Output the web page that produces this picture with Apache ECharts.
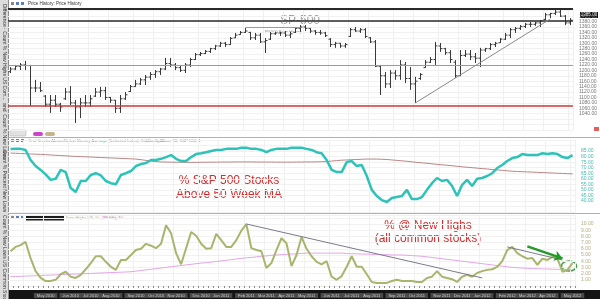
<!DOCTYPE html>
<html>
<head>
<meta charset="utf-8">
<script src="https://cdn.jsdelivr.net/npm/echarts@6/dist/echarts.min.js"></script>
<style>
html,body{margin:0;padding:0;background:#fff;}
#chart{width:600px;height:299px;}
</style>
</head>
<body>
<div id="chart"></div>
<script>
// weekly bars, Mar 2010 - May 2012
var weeks = [
 '2010-03-15','2010-03-22','2010-03-29','2010-04-05','2010-04-12','2010-04-19','2010-04-26','2010-05-03','2010-05-10','2010-05-17',
 '2010-05-24','2010-05-31','2010-06-07','2010-06-14','2010-06-21','2010-06-28','2010-07-05','2010-07-12','2010-07-19','2010-07-26',
 '2010-08-02','2010-08-09','2010-08-16','2010-08-23','2010-08-30','2010-09-06','2010-09-13','2010-09-20','2010-09-27','2010-10-04',
 '2010-10-11','2010-10-18','2010-10-25','2010-11-01','2010-11-08','2010-11-15','2010-11-22','2010-11-29','2010-12-06','2010-12-13',
 '2010-12-20','2010-12-27','2011-01-03','2011-01-10','2011-01-17','2011-01-24','2011-01-31','2011-02-07','2011-02-14','2011-02-21',
 '2011-02-28','2011-03-07','2011-03-14','2011-03-21','2011-03-28','2011-04-04','2011-04-11','2011-04-18','2011-04-25','2011-05-02',
 '2011-05-09','2011-05-16','2011-05-23','2011-05-30','2011-06-06','2011-06-13','2011-06-20','2011-06-27','2011-07-04','2011-07-11',
 '2011-07-18','2011-07-25','2011-08-01','2011-08-08','2011-08-15','2011-08-22','2011-08-29','2011-09-05','2011-09-12','2011-09-19',
 '2011-09-26','2011-10-03','2011-10-10','2011-10-17','2011-10-24','2011-10-31','2011-11-07','2011-11-14','2011-11-21','2011-11-28',
 '2011-12-05','2011-12-12','2011-12-19','2011-12-26','2012-01-02','2012-01-09','2012-01-16','2012-01-23','2012-01-30','2012-02-06',
 '2012-02-13','2012-02-20','2012-02-27','2012-03-05','2012-03-12','2012-03-19','2012-03-26','2012-04-02','2012-04-09','2012-04-16',
 '2012-04-23','2012-04-30','2012-05-07'
];
var monthNames = ['Jan','Feb','Mar','Apr','May','Jun','Jul','Aug','Sep','Oct','Nov','Dec'];

var spOpen = [
 1195,1205,1215,1220,1218,1135,1135,1105,1075,1090,
 1075,1095,1120,1080,1065,1080,1080,1105,1120,1125,
 1100,1090,1060,1095,1122,1140,1150,1165,1175,1185,
 1195,1205,1225,1220,1210,1200,1220,1240,1258,1262,
 1270,1280,1290,1300,1295,1320,1332,1340,1340,1320,
 1330,1305,1315,1335,1338,1338,1330,1340,1355,1360,
 1355,1345,1340,1338,1315,1295,1300,1290,1325,1350,
 1345,1350,1320,1305,1215,1180,1150,1190,1180,1220,
 1170,1150,1170,1210,1230,1240,1290,1280,1265,1230,
 1180,1255,1260,1250,1245,1275,1280,1295,1302,1315,
 1330,1350,1355,1362,1370,1370,1375,1388,1405,1410,
 1415,1400,1375
];
var spClose = [
 1205,1215,1220,1218,1135,1135,1125,1075,1090,1075,
 1065,1120,1080,1065,1080,1080,1095,1120,1125,1100,
 1090,1060,1095,1110,1140,1150,1165,1175,1185,1195,
 1205,1225,1220,1210,1200,1220,1240,1258,1262,1270,
 1280,1290,1300,1295,1318,1330,1340,1345,1320,1330,
 1305,1310,1335,1338,1338,1330,1335,1355,1360,1355,
 1345,1340,1338,1328,1295,1300,1290,1295,1350,1345,
 1350,1325,1305,1215,1180,1150,1190,1180,1220,1170,
 1150,1160,1185,1230,1240,1290,1280,1265,1240,1180,
 1255,1260,1250,1245,1275,1280,1295,1300,1315,1330,
 1350,1355,1362,1370,1370,1375,1382,1405,1410,1415,
 1400,1375,1385
];
var spLow = [
 1190,1201,1201,1201,1069,1120,1120,1065,1043,1065,
 1047,1091,1072,1006,1024,1065,1065,1102,1102,1091,
 1080,1043,1043,1091,1120,1139,1146,1146,1165,1172,
 1183,1201,1212,1201,1194,1190,1212,1238,1253,1260,
 1264,1275,1286,1286,1294,1319,1331,1338,1312,1312,
 1301,1264,1312,1331,1327,1323,1319,1338,1342,1345,
 1338,1331,1331,1323,1286,1283,1283,1283,1323,1342,
 1338,1319,1301,1212,1109,1135,1135,1165,1165,1153,
 1128,1080,1165,1209,1227,1220,1268,1257,1227,1172,
 1179,1249,1238,1227,1212,1268,1275,1286,1301,1312,
 1319,1338,1349,1356,1360,1364,1360,1386,1393,1404,
 1397,1367,1367
];
var spHigh = [
 1212,1220,1227,1235,1220,1165,1157,1109,1109,1109,
 1080,1135,1142,1091,1098,1109,1109,1135,1139,1139,
 1102,1091,1109,1120,1146,1165,1172,1183,1194,1201,
 1209,1246,1246,1227,1220,1227,1246,1264,1268,1275,
 1283,1294,1305,1305,1323,1338,1345,1356,1342,1338,
 1338,1319,1342,1342,1342,1345,1342,1360,1367,1367,
 1356,1349,1349,1342,1319,1305,1301,1301,1356,1360,
 1356,1356,1323,1312,1220,1194,1201,1201,1238,1231,
 1212,1176,1190,1238,1249,1305,1301,1283,1275,1238,
 1275,1275,1275,1264,1283,1283,1301,1305,1319,1338,
 1356,1360,1367,1375,1379,1379,1386,1412,1412,1423,
 1423,1404,1393
];
// % of S&P 500 stocks above 50 week MA
var pctAbove = [
 86.9,87,87,86,77,71.5,68,64,59,60,
 68,66,51.6,48,58,58,63.4,65,63,58,
 56,55,63.4,65,67,71.5,73.3,74.2,77,77,
 78,79.6,81.4,78,76,76,79.6,82.3,83,84,
 85,86,86,87,87,87,88,88,87,87,
 86,84,86,87,87,87,88,88,88,87,
 86,84,83,77,68,66,66,75,76,71.5,
 72.4,62.5,50,44.4,40.8,39,42.6,43.5,44.4,50,
 41.7,41.7,43.5,50,56,60.7,58,59,53.5,44.4,
 54.4,59,53.5,60,60.7,62.5,65,69.7,72.4,76,
 78.7,79.6,82.3,81.4,81.4,81.4,83,82.3,83,82.3,
 79.6,78.7,81.4
];
var pctAboveMa = [
 83.2,83,82.8,82.6,82.4,82.2,82,81.8,81.5,81.2,
 81,80.7,80.4,80.2,80,79.8,79.6,79.4,79.2,79,
 78.8,78.6,78.4,78.2,78,77.8,77.2,76.6,76,75.5,
 75.2,75.1,75,74.9,74.9,74.8,74.8,74.8,74.9,74.9,
 75,75,75.1,75.1,75.1,75.2,75.2,75.2,75.2,75.1,
 75.1,75.1,75.1,75,75,75,75,75.1,75.1,75.2,
 75.2,75.3,75.4,75.5,76,76.4,76.8,77,77.2,77.4,
 77.6,77.8,77.8,77.8,77.6,77.4,77,76.6,76.2,75.8,
 75.3,74.8,74.4,74,73.5,73,72.6,72.2,71.8,71.3,
 70.8,70.4,70,69.6,69.2,68.8,68.4,68,67.6,67.2,
 66.8,66.6,66.4,66.2,66,65.8,65.6,65.4,65.2,65,
 64.8,64.6,64.4
];
// % of common stocks at new highs
var newHighs = [
 5.6,6.3,6.6,7.1,4.5,2.4,1.3,0.8,0.8,1,
 1.9,2.3,1.5,1.3,1.8,2.7,3.7,4.8,4.8,3.9,
 3.1,2.6,4.2,4.2,5,5.8,6,6.8,6.5,6.1,
 6.8,9.8,8.5,5.3,3.5,6.1,8.7,8.1,6.8,6,
 6.1,8.4,7.4,6.3,6.3,7.4,8.9,10,6.1,5.8,
 5.6,2.9,3.7,5.8,7.7,6.9,3.2,5,7.9,6,
 4.8,3.9,3.5,4,1.5,1,1.6,3.1,4.8,3.1,
 3.1,1.9,0.65,0.5,0.5,0.5,0.8,1,0.8,0.8,
 0.8,0.65,0.65,1.3,1.5,2.4,1.5,1.3,1.1,0.65,
 1.5,1.8,1.5,2.1,2.4,2.6,2.7,3.1,4,5.8,
 6.3,5.3,4.8,4.4,4.5,3.4,4.4,4.2,4.7,4.4,
 2.3,2.6,3.7
];
var newHighsMa = [
 1.5,1.53,1.56,1.6,1.63,1.66,1.7,1.73,1.76,1.8,
 1.83,1.86,1.9,1.93,1.96,2,2.03,2.06,2.1,2.13,
 2.16,2.2,2.23,2.26,2.3,2.4,2.5,2.6,2.7,2.8,
 2.9,3,3.1,3.2,3.3,3.4,3.5,3.6,3.7,3.75,
 3.85,3.95,4.05,4.15,4.25,4.35,4.45,4.55,4.6,4.7,
 4.8,4.85,4.95,5,5.05,5.1,5.15,5.2,5.25,5.3,
 5.3,5.3,5.3,5.3,5.3,5.3,5.3,5.25,5.2,5.2,
 5.15,5.15,5.1,5.1,5.05,5.05,5,5,5,4.95,
 4.9,4.85,4.8,4.7,4.6,4.5,4.4,4.3,4.2,4.1,
 4,3.9,3.8,3.7,3.6,3.5,3.4,3.3,3.2,3.1,
 3,2.95,2.9,2.85,2.8,2.8,2.75,2.75,2.7,2.7,
 2.65,2.65,2.6
];
// price levels drawn across the top panel
var priceLevels = [1427, 1382, 1220, 1069];

var chart = echarts.init(document.getElementById('chart'));

function monthStart(idx, val) {
    return +val.slice(8, 10) <= 7;
}

function renderOhlc(params, api) {
    var i = api.value(0);
    var x = Math.round(api.coord([i, api.value(1)])[0]) + 0.5;
    var yo = api.coord([i, api.value(1)])[1];
    var yc = api.coord([i, api.value(2)])[1];
    var yl = api.coord([i, api.value(3)])[1];
    var yh = api.coord([i, api.value(4)])[1];
    var st = {stroke: '#3a3a3a', lineWidth: 1};
    return {
        type: 'group',
        children: [
            {type: 'line', shape: {x1: x, y1: yh, x2: x, y2: yl}, style: st},
            {type: 'line', shape: {x1: x - 2, y1: yo, x2: x, y2: yo}, style: st},
            {type: 'line', shape: {x1: x, y1: yc, x2: x + 2, y2: yc}, style: st}
        ]
    };
}

var ohlcData = weeks.map(function (w, i) {
    return [i, spOpen[i], spClose[i], spLow[i], spHigh[i]];
});

function xAxisFor(g) {
    var ax = {
        type: 'category', gridIndex: g, data: weeks, boundaryGap: true,
        axisLine: {show: false}, axisTick: {show: false}, axisLabel: {show: false},
        splitLine: {show: true, interval: monthStart, lineStyle: {color: '#f0f0f0', width: 1}}
    };
    if (g === 2) {
        ax.offset = 4;
        ax.axisTick = {show: true, interval: 0, length: 2, lineStyle: {color: '#8a8a8a'}};
        ax.axisLabel = {
            show: true, interval: monthStart, fontSize: 4, color: '#cfcfcf',
            backgroundColor: '#4a4a4a', padding: [1, 3, 0, 3], margin: 3,
            formatter: function (v) { return monthNames[+v.slice(5, 7) - 1] + ' ' + v.slice(0, 4); }
        };
    }
    return ax;
}

var lblBase = {fontSize: 5, margin: 6};
var noLine = {show: false};

var option = {
    animation: false,
    textStyle: {fontFamily: 'Liberation Sans, Arial, sans-serif'},
    grid: [
        {left: 8, right: 25, top: 8, height: 122},
        {left: 8, right: 25, top: 140, height: 72},
        {left: 8, right: 25, top: 215, height: 71}
    ],
    xAxis: [xAxisFor(0), xAxisFor(1), xAxisFor(2)],
    yAxis: [
        {
            type: 'value', gridIndex: 0, position: 'right', min: 980, max: 1430, interval: 20,
            axisLine: noLine, axisTick: noLine,
            splitLine: {lineStyle: {color: '#f1f1f1'}},
            axisLabel: Object.assign({color: '#777', formatter: function (v) {
                return (v >= 1040 && v <= 1400) ? v.toFixed(2) : '';
            }}, lblBase)
        },
        {
            type: 'value', gridIndex: 1, position: 'right', min: 30, max: 95, interval: 5,
            axisLine: noLine, axisTick: noLine,
            splitLine: {lineStyle: {color: '#f1f1f1'}},
            axisLabel: Object.assign({color: '#46b9b2', formatter: function (v) {
                return (v >= 40 && v <= 85) ? v.toFixed(2) : '';
            }}, lblBase)
        },
        {
            type: 'value', gridIndex: 2, position: 'right', min: 0, max: 11.45, interval: 1,
            axisLine: noLine, axisTick: noLine,
            splitLine: {lineStyle: {color: '#f1f1f1'}},
            axisLabel: Object.assign({color: '#b3ab80', formatter: function (v) {
                return (v >= 1 && v <= 10) ? v.toFixed(2) : '';
            }}, lblBase)
        }
    ],
    series: [
        {
            type: 'line', xAxisIndex: 0, yAxisIndex: 0, data: spClose,
            symbol: 'none', silent: true, lineStyle: {opacity: 0},
            markLine: {
                silent: true, symbol: ['none', 'none'], label: {show: false},
                data: [
                    {yAxis: priceLevels[0], lineStyle: {color: '#2a2a2a', width: 2, type: 'solid'}},
                    {yAxis: priceLevels[1], lineStyle: {color: '#2a2a2a', width: 1.5, type: 'solid'}},
                    {yAxis: priceLevels[2], lineStyle: {color: '#9a9a9a', width: 1.2, type: 'solid'}},
                    {yAxis: priceLevels[3], lineStyle: {color: '#c43a3a', width: 1.5, type: 'solid'}},
                    [{coord: [weeks[81], 1080], lineStyle: {color: '#8a8a8a', width: 1, type: 'solid'}},
                     {coord: [weeks[108], 1390]}],
                    [{coord: [weeks[47], 1360], lineStyle: {color: '#9a9a9a', width: 1, type: 'solid'}},
                     {coord: [weeks[58], 1360]}]
                ]
            }
        },
        {
            type: 'custom', xAxisIndex: 0, yAxisIndex: 0, data: ohlcData,
            encode: {x: 0, y: [1, 2, 3, 4]}, renderItem: renderOhlc, silent: true
        },
        {
            type: 'line', xAxisIndex: 1, yAxisIndex: 1, data: pctAboveMa,
            symbol: 'none', lineStyle: {color: '#b98585', width: 1}
        },
        {
            type: 'line', xAxisIndex: 1, yAxisIndex: 1, data: pctAbove,
            symbol: 'none', lineStyle: {color: '#2ec2b8', width: 2.5}
        },
        {
            type: 'line', xAxisIndex: 2, yAxisIndex: 2, data: newHighsMa,
            symbol: 'none', lineStyle: {color: '#e2a6e6', width: 1}
        },
        {
            type: 'line', xAxisIndex: 2, yAxisIndex: 2, data: newHighs,
            symbol: 'none', lineStyle: {color: '#a9b56c', width: 2},
            markLine: {
                silent: true, symbol: ['none', 'none'], label: {show: false},
                data: [
                    [{coord: [weeks[47], 10], lineStyle: {color: '#7a7a8a', width: 1, type: 'solid'}},
                     {coord: [weeks[94], 1.3]}],
                    [{coord: [weeks[99], 6.3], lineStyle: {color: '#7a7a8a', width: 1, type: 'solid'}},
                     {coord: [weeks[110], 4.2]}],
                    [{coord: [weeks[103], 6.4], symbol: 'none', lineStyle: {color: '#239a2a', width: 2.5, type: 'solid'}},
                     {coord: [weeks[110], 4.45], symbol: 'arrow', symbolSize: 8}]
                ]
            }
        }
    ],
    graphic: [
        // left strip with rotated pane captions
        {type: 'rect', shape: {x: 0, y: 0, width: 8, height: 299}, style: {fill: '#dcdcdc'}},
        {type: 'line', shape: {x1: 8.5, y1: 0, x2: 8.5, y2: 299}, style: {stroke: '#8a8a8a', lineWidth: 1}},
        {type: 'text', x: 4, y: 4, rotation: -Math.PI / 2,
         style: {text: 'Difference · Count % New Highs US Com...  and  Count % New Lows', fontSize: 5, fill: '#333', verticalAlign: 'middle'}},
        {type: 'text', x: 4, y: 150, rotation: -Math.PI / 2,
         style: {text: 'Count % Percent New Lows  Count % New Lows US Common Stocks, 1', fontSize: 5, fill: '#333', verticalAlign: 'middle'}},
        // pane separators
        {type: 'line', shape: {x1: 8, y1: 137.5, x2: 600, y2: 137.5}, style: {stroke: '#b0b0b0', lineWidth: 1}},
        {type: 'line', shape: {x1: 8, y1: 213.5, x2: 600, y2: 213.5}, style: {stroke: '#b0b0b0', lineWidth: 1}},
        // bottom date band
        {type: 'rect', z: -10, shape: {x: 8, y: 290, width: 592, height: 9}, style: {fill: '#141414'}},
        // pane 1 header
        {type: 'rect', shape: {x: 11, y: 2, width: 3, height: 3}, style: {fill: '#888'}},
        {type: 'rect', shape: {x: 16, y: 2, width: 3, height: 3}, style: {fill: '#5b7fc0'}},
        {type: 'rect', shape: {x: 21, y: 2, width: 3, height: 3}, style: {fill: '#5b7fc0'}},
        {type: 'text', x: 28, y: 4, style: {text: 'Price History: Price History', fontSize: 4.5, fill: '#333', verticalAlign: 'middle'}},
        {type: 'text', x: 300, y: 21, style: {text: 'SP-500', fontSize: 12, fill: '#a0a0a0', align: 'center', verticalAlign: 'middle'}},
        {type: 'text', x: 283, y: 32, style: {text: 'SP 500 Price History', fontSize: 4, fill: '#888', align: 'center', verticalAlign: 'middle'}},
        {type: 'rect', shape: {x: 580, y: 12, width: 18, height: 6}, style: {fill: '#111'}},
        {type: 'text', x: 589, y: 15, style: {text: '1385.00', fontSize: 4.5, fill: '#fff', align: 'center', verticalAlign: 'middle'}},
        {type: 'rect', shape: {x: 10, y: 130, width: 16, height: 6, r: 1}, style: {fill: '#e2e2e2', stroke: '#aaa', lineWidth: 0.5}},
        {type: 'rect', shape: {x: 33, y: 132, width: 10, height: 4, r: 2}, style: {fill: '#cc44cc'}},
        {type: 'rect', shape: {x: 45, y: 132, width: 10, height: 4, r: 2}, style: {fill: '#c8b48a'}},
        {type: 'rect', shape: {x: 594, y: 127, width: 5, height: 4}, style: {fill: '#e06060'}},
        // pane 2 header
        {type: 'rect', shape: {x: 11, y: 139, width: 3, height: 3}, style: {fill: '#888'}},
        {type: 'rect', shape: {x: 16, y: 139, width: 3, height: 3}, style: {fill: '#5b7fc0'}},
        {type: 'rect', shape: {x: 21, y: 139, width: 3, height: 3}, style: {fill: '#5b7fc0'}},
        {type: 'text', x: 28, y: 141, style: {text: '% of Stocks Above/Below Moving Average (Selected Index): Stocks % Above 50, S&P 500, 1', fontSize: 4.2, fill: '#3bb8b0', verticalAlign: 'middle'}},
        {type: 'text', x: 146, y: 141, style: {text: 'Moving 50', fontSize: 4.2, fill: '#cc8899', verticalAlign: 'middle'}},
        {type: 'text', x: 229, y: 181, style: {text: '% S&P 500 Stocks', fontSize: 12, fill: '#d42a2a', align: 'center', verticalAlign: 'middle'}},
        {type: 'text', x: 229, y: 195, style: {text: 'Above 50 Week MA', fontSize: 12, fill: '#d42a2a', align: 'center', verticalAlign: 'middle'}},
        // pane 3 header
        {type: 'rect', shape: {x: 11, y: 216, width: 3, height: 3}, style: {fill: '#888'}},
        {type: 'rect', shape: {x: 16, y: 216, width: 3, height: 3}, style: {fill: '#5b7fc0'}},
        {type: 'rect', shape: {x: 21, y: 216, width: 3, height: 3}, style: {fill: '#5b7fc0'}},
        {type: 'rect', shape: {x: 26, y: 215.5, width: 38, height: 5}, style: {fill: '#1c1c1c'}},
        {type: 'text', x: 66, y: 218, style: {text: 'New Highs US, %, (NYSE), 1', fontSize: 4.2, fill: '#b3ab80', verticalAlign: 'middle'}},
        {type: 'text', x: 104, y: 218, style: {text: 'Moving 50', fontSize: 4.2, fill: '#e090e0', verticalAlign: 'middle'}},
        {type: 'text', x: 428, y: 226, style: {text: '% @ New Highs', fontSize: 12, fill: '#d42a2a', align: 'center', verticalAlign: 'middle'}},
        {type: 'text', x: 428, y: 239, style: {text: '(all common stocks)', fontSize: 12, fill: '#d42a2a', align: 'center', verticalAlign: 'middle'}},
        {type: 'ellipse', shape: {cx: 569, cy: 266, rx: 7.5, ry: 5}, style: {fill: 'none', stroke: '#3c9a3c', lineWidth: 1.5}}
    ]
};

chart.setOption(option);
window.addEventListener('resize', function () {
    chart.resize();
});
</script>
</body>
</html>
